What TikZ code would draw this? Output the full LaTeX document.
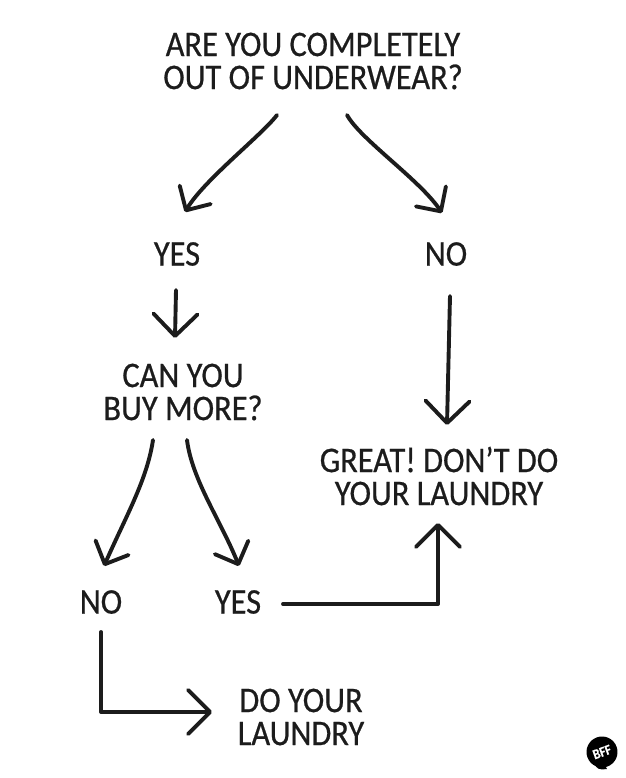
\documentclass[tikz,border=0pt]{standalone}
\usepackage{fontspec}
\setmainfont{Carlito}[FakeStretch=0.9, FakeBold=0.6]
\usepackage{xcolor}
\usetikzlibrary{positioning, arrows.meta}
\definecolor{inkdark}{HTML}{1C1C1C}

\begin{document}
\begin{tikzpicture}[
  x=1pt, y=1pt,
  lbl/.style={on grid, inner sep=0pt, align=center, text=inkdark, font=\fontsize{36}{33}\selectfont},
  arr/.style={-{Straight Barb[length=18pt, width=36pt, round]}, line width=3.9pt, line cap=round, line join=round, draw=inkdark},
  bigarr/.style={arr, -{Straight Barb[length=22pt, width=44pt, round]}},
  badge/.style={circle, fill=black, text=white, inner sep=0pt, minimum size=31pt, rotate=20, font=\fontsize{14}{14}\selectfont\bfseries},
]
\useasboundingbox (0,0) rectangle (625,-778);

% === QUESTION ===
\node[lbl] (q_out) at (313,-61) {ARE YOU COMPLETELY\\OUT OF UNDERWEAR?};

% === FIRST ANSWERS ===
\node[lbl, below left=193pt and 136pt of q_out] (yes_a) {YES};
\node[lbl, below right=193pt and 133pt of q_out] (no_a) {NO};

\draw[arr] ([shift={(-36,-54)}]q_out.center) .. controls +(-15,-20) and +(19,32) .. ([shift={(8,42)}]yes_a.center);
\draw[arr] ([shift={(34,-54)}]q_out.center) .. controls +(13,-24) and +(-22,33) .. ([shift={(-4,41)}]no_a.center);

% === BUY MORE ===
\node[lbl, below right=138pt and 6pt of yes_a] (q_buy) {CAN YOU\\BUY MORE?};
\node[lbl, below left=222pt and 7pt of no_a] (great) {GREAT! DON'T DO\\YOUR LAUNDRY};

\draw[bigarr] ([shift={(-1,-36)}]yes_a.center) -- ([shift={(-8,54)}]q_buy.center);
\draw[bigarr] ([shift={(4,-42)}]no_a.center) -- ([shift={(8,51)}]great.center);

% === SECOND ANSWERS ===
\node[lbl, below left=210pt and 82pt of q_buy] (no_b) {NO};
\node[lbl, below right=210pt and 55pt of q_buy] (yes_b) {YES};

\draw[arr] ([shift={(-30,-48)}]q_buy.center) .. controls +(-6,-40) and +(22,50) .. ([shift={(3,36)}]no_b.center);
\draw[arr] ([shift={(4,-48)}]q_buy.center) .. controls +(5,-40) and +(-18,45) .. ([shift={(1,36)}]yes_b.center);

% === LAUNDRY ===
\node[lbl, below right=115pt and 63pt of yes_b] (laundry) {DO YOUR\\LAUNDRY};

\draw[bigarr] ([shift={(45,-2)}]yes_b.center) -| ([shift={(-1,-47)}]great.center);
\draw[bigarr] ([shift={(0,-30)}]no_b.center) |- ([shift={(-89,5)}]laundry.center);

% === LOGO ===
\node[badge] (logo) at (602,-752) {BFF};
\fill[black] ([shift={(-8,-12)}]logo.center) .. controls +(4,-5) and +(-9,-1) .. ([shift={(5,-17)}]logo.center) .. controls +(-1,3) and +(0,-3) .. ([shift={(3,-12)}]logo.center) -- cycle;

\end{tikzpicture}
\end{document}
